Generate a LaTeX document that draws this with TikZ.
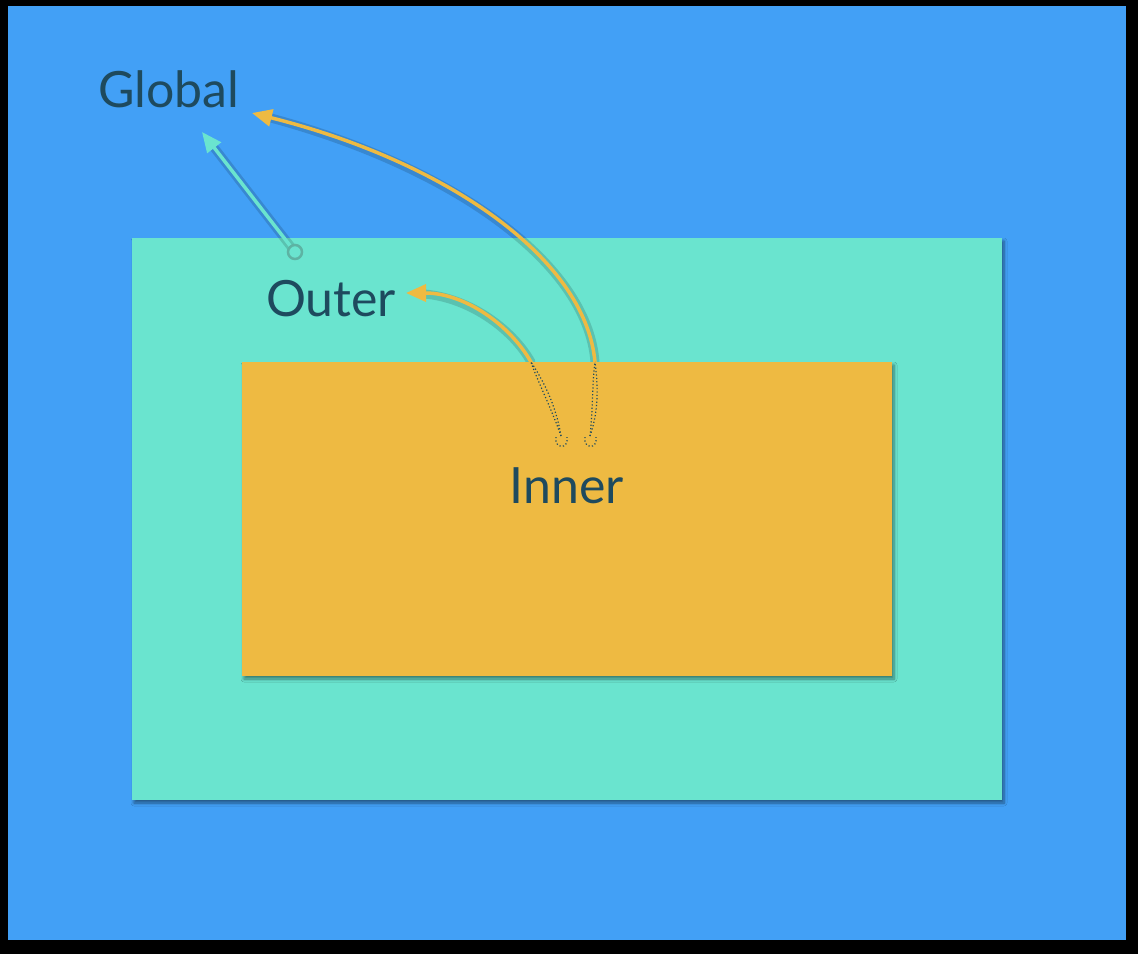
\documentclass[tikz,border=0pt]{standalone}
\usepackage{fontspec}
\setmainfont{Lato}
\usetikzlibrary{arrows.meta,shadows.blur}
\definecolor{bgblue}{HTML}{42A0F6}
\definecolor{tealc}{HTML}{6AE4CF}
\definecolor{orangec}{HTML}{EEBA42}
\definecolor{txt}{HTML}{1E4A5E}
\definecolor{ringc}{HTML}{5DB3A3}
\tikzset{
  box/.style={draw=none, inner sep=0pt, blur shadow={shadow xshift=2pt, shadow yshift=-3pt, shadow blur steps=6, shadow blur radius=3pt, shadow opacity=45}},
  label/.style={text=txt, font=\fontsize{50}{54}\selectfont, anchor=base, inner sep=0pt},
  arr/.style={line width=3.5pt, -{Triangle[length=20pt,width=17pt]}},
  halo/.style={line width=9pt, draw=black, opacity=0.15, shift={(2,3)}, line cap=round, shorten >=14pt},
  edge/.style={draw=txt, line width=1.2pt, dash pattern=on 1.2pt off 2.2pt},
}
\begin{document}
\begin{tikzpicture}[x=1pt,y=-1pt]
\useasboundingbox (0,0) rectangle (1138,954);
\fill[black] (0,0) rectangle (1138,954);
\node[draw=none, inner sep=0pt, fill=bgblue, minimum width=1118pt, minimum height=934pt] (global) at (567,473) {};
\node[box, fill=tealc, minimum width=870pt, minimum height=562pt] (outer) at (567,519) {};
% coordinates
\coordinate (gtip) at (252,113);
\coordinate (ttip) at (202,132);
\coordinate (tstart) at (295,252);
\coordinate (otip) at (406,293);
\coordinate (s1) at (561,436);
\coordinate (s2) at (590,436);
\coordinate (e1) at (531,362);
\coordinate (e2) at (595,362);
% teal arrow
\draw[halo] (tstart) -- (ttip);
\draw[arr, draw=tealc, shorten <=7pt] (tstart) -- (ttip);
\draw[draw=ringc, line width=2.5pt, fill=tealc] (tstart) circle[radius=7pt];
% orange arrows halos
\draw[halo] (e1) .. controls (510,325) and (465,293) .. (otip);
\draw[halo] (e2) .. controls (585,255) and (440,160) .. (gtip);
\draw[arr, draw=orangec] (s1) .. controls (553,405) and (540,380) .. (e1) .. controls (510,325) and (465,293) .. (otip);
\draw[arr, draw=orangec] (s2) .. controls (596,410) and (595,385) .. (e2) .. controls (585,255) and (440,160) .. (gtip);
% inner box
\node[box, fill=orangec, minimum width=650pt, minimum height=314pt] (inner) at (567,519) {};
% dotted outlines of the arrows inside the inner box
\begin{scope}
\clip (inner.north west) rectangle (inner.south east);
\draw[edge, shift={(-3,0)}] (s1) .. controls (553,405) and (540,380) .. (e1);
\draw[edge, shift={(3,0)}] (s1) .. controls (553,405) and (540,380) .. (e1);
\draw[edge] (556,437) .. controls (554,449) and (569,450) .. (567,437);
\draw[edge, shift={(-3,0)}] (s2) .. controls (596,410) and (595,385) .. (e2);
\draw[edge, shift={(3,0)}] (s2) .. controls (596,410) and (595,385) .. (e2);
\draw[edge] (585,437) .. controls (583,449) and (598,450) .. (596,437);
\end{scope}
% labels
\node[label] (tglobal) at (169,107) {Global};
\node[label] (touter) at (331,316) {Outer};
\node[label] (tinner) at (567,503) {Inner};
\end{tikzpicture}
\end{document}
